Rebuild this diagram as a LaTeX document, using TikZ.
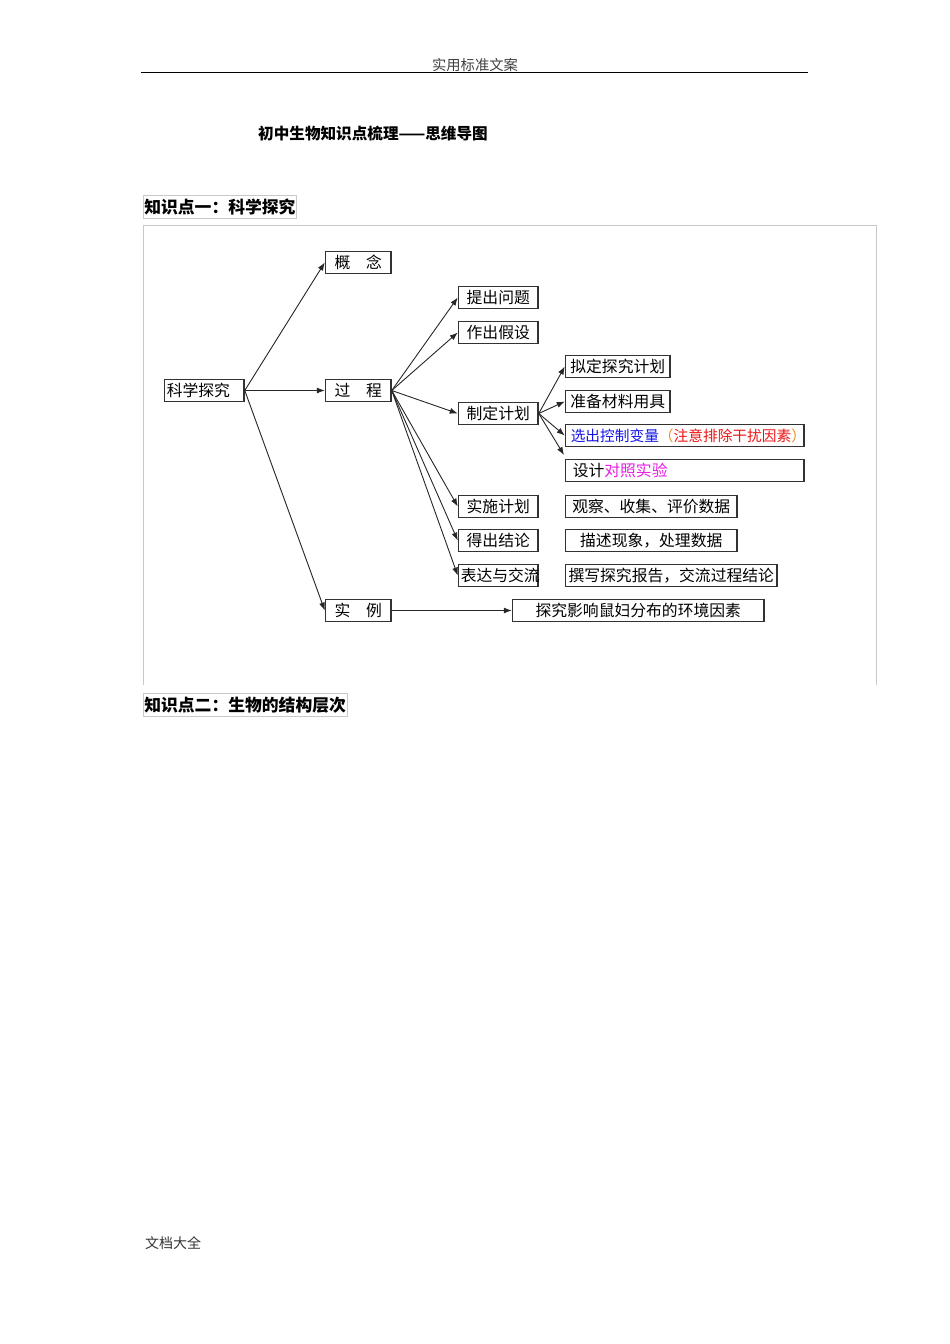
\documentclass[tikz,border=0pt]{standalone}
\usepackage{fontspec}
\newfontfamily\cjk{Noto Sans CJK SC}
\usetikzlibrary{arrows.meta}
\definecolor{bordergray}{RGB}{50,50,50}
\definecolor{framegray}{RGB}{200,200,200}
\definecolor{ctrlblue}{RGB}{20,20,230}
\definecolor{ctrlred}{RGB}{235,20,20}
\definecolor{ctrlorange}{RGB}{240,140,20}
\definecolor{magent}{RGB}{230,30,230}
\tikzset{
  bx/.style={draw=bordergray, line width=1.5pt, anchor=north west, minimum height=22pt,
    inner xsep=2.25pt, inner ysep=0pt, font=\cjk\fontsize{15.8}{16}\selectfont, align=center},
  bxs/.style={bx, font=\cjk\fontsize{14.7}{15}\selectfont, inner xsep=0.25pt},
  arr/.style={-{Latex[length=8pt,width=6pt]}, line width=0.9pt, draw=black!85},
  framel/.style={draw=framegray, line width=0.8pt},
  hd/.style={font=\cjk\bfseries\fontsize{16.8}{17}\selectfont, anchor=west, inner xsep=1pt, inner ysep=0pt,
    minimum height=23pt, draw=framegray, line width=0.6pt},
}
\begin{document}
\begin{tikzpicture}[x=1pt,y=-1pt]
\useasboundingbox (0,0) rectangle (950,1344);
% header
\node[font=\cjk\fontsize{14.3}{15}\selectfont, text=black!75, inner sep=0] (hdr) at (475,65) {实用标准文案};
\draw[line width=1pt] (141,72) -- (808,72);
\node[font=\cjk\bfseries\fontsize{15.6}{16}\selectfont, anchor=west, inner sep=0] (title) at (258,134) {初中生物知识点梳理——思维导图};
% headings
\node[hd] (h1) at (143,207) {知识点一：科学探究};
\node[hd] (h2) at (143,705) {知识点二：生物的结构层次};
% frame
\draw[framel] (143,685) -- (143,225) -- (876,225) -- (876,685);
% nodes
\node[bx, text width=75pt, align=left] (kx) at (163.75,378.75) {科学探究};
\node[bx, text width=61pt] (gn) at (324.75,250.75) {概\hspace{1em}念};
\node[bx, text width=61pt] (gc) at (324.75,378.75) {过\hspace{1em}程};
\node[bx, text width=61pt] (sl) at (324.75,598.75) {实\hspace{1em}例};
\node[bx, text width=75pt] (tw) at (457.75,285.75) {提出问题};
\node[bx, text width=75pt] (jz) at (457.75,320.75) {作出假设};
\node[bx, text width=75pt] (zd) at (457.75,401.75) {制定计划};
\node[bx, text width=75pt] (ss) at (457.75,494.75) {实施计划};
\node[bx, text width=75pt] (dc) at (457.75,528.75) {得出结论};
\node[bx, text width=75pt] (bd) at (457.75,563.75) {表达与交流};
\node[bx, text width=100pt] (nd) at (564.75,354.75) {拟定探究计划};
\node[bx, text width=100pt] (zb) at (564.75,389.75) {准备材料用具};
\node[bxs, text width=238pt, align=left] (xc) at (564.75,423.75) {\mbox{\hspace*{5pt}\textcolor{ctrlblue}{选出控制变量}\textcolor{ctrlorange}{（}\textcolor{ctrlred}{注意排除干扰因素}\textcolor{ctrlorange}{）}}};
\node[bx, text width=234pt, align=left] (sj) at (564.75,458.75) {\mbox{\hspace*{5pt}设计\textcolor{magent}{对照实验}}};
\node[bx, text width=167pt] (gc2) at (564.75,494.75) {观察、收集、评价数据};
\node[bx, text width=167pt] (ms) at (564.75,528.75) {描述现象，处理数据};
\node[bx, text width=207pt] (zx) at (564.75,563.75) {撰写探究报告，交流过程结论};
\node[bx, text width=247pt] (tj) at (511.75,598.75) {探究影响鼠妇分布的环境因素};
\coordinate (sjin) at (564,455);
% connectors
\draw[arr] (kx.east) -- (gn.west);
\draw[arr] (kx.east) -- (gc.west);
\draw[arr] (kx.east) -- (sl.west);
\draw[arr] (gc.east) -- (tw.west);
\draw[arr] (gc.east) -- (jz.west);
\draw[arr] (gc.east) -- (zd.west);
\draw[arr] (gc.east) -- (ss.west);
\draw[arr] (gc.east) -- (dc.west);
\draw[arr] (gc.east) -- (bd.west);
\draw[arr] (zd.east) -- (nd.west);
\draw[arr] (zd.east) -- (zb.west);
\draw[arr] (zd.east) -- (xc.west);
\draw[arr] (zd.east) -- (sjin);
\draw[arr] (sl.east) -- (tj.west);
% footer
\node[font=\cjk\fontsize{14}{14}\selectfont, text=black!80, anchor=west, inner sep=0] (ftr) at (145,1243) {文档大全};
\end{tikzpicture}
\end{document}
